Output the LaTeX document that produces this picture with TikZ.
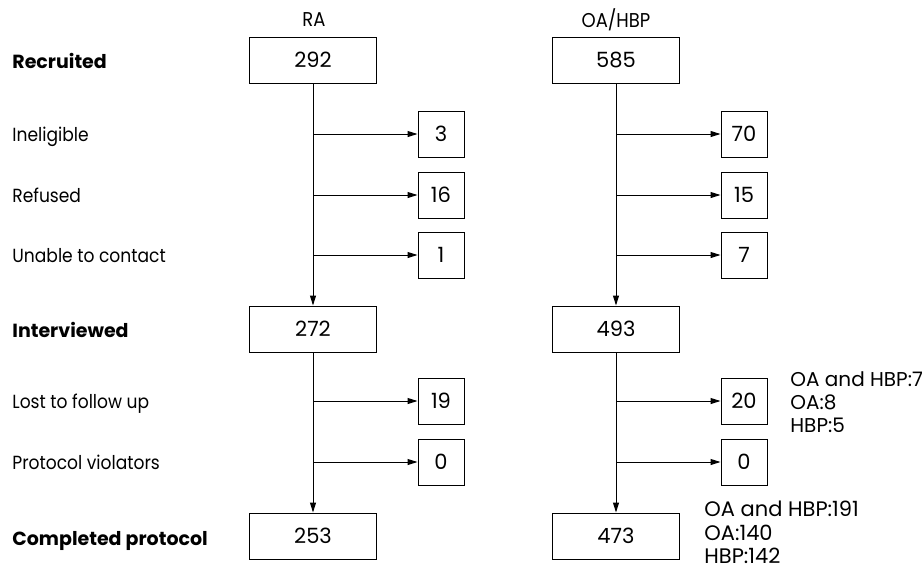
\documentclass[tikz,border=0pt]{standalone}
\usepackage{fontspec}
\setmainfont{Poppins}[FakeStretch=0.9, BoldFeatures={FakeStretch=1.0}]
\newfontfamily\numfont{Poppins}
\usetikzlibrary{arrows.meta, positioning}

\begin{document}
\begin{tikzpicture}[
  x=0.5pt, y=-0.5pt,
  bigbox/.style={draw, line width=0.5pt, minimum width=63.5pt, minimum height=23pt, inner sep=0pt, font=\numfont\fontsize{10.5}{12}\selectfont},
  smallbox/.style={draw, line width=0.5pt, minimum width=23pt, minimum height=23pt, inner sep=0pt, font=\numfont\fontsize{10.5}{12}\selectfont},
  rowlabel/.style={anchor=base west, inner sep=0pt, font=\fontsize{9.5}{12}\selectfont},
  header/.style={font=\fontsize{10}{12}\selectfont},
  note/.style={anchor=north west, align=left, inner sep=0pt, font=\numfont\fontsize{10.5}{11.75}\selectfont},
  arrow/.style={-{Triangle[length=5pt, width=3pt]}, line width=0.5pt}
]
\useasboundingbox (0,0) rectangle (922,570);

% row labels
\node[rowlabel] (l_rec) at (12,68) {\textbf{Recruited}};
\node[rowlabel] (l_inel) at (12,141) {Ineligible};
\node[rowlabel] (l_ref) at (12,202) {Refused};
\node[rowlabel] (l_unab) at (12,262) {Unable to contact};
\node[rowlabel] (l_int) at (12,337) {\textbf{Interviewed}};
\node[rowlabel] (l_lost) at (12,408) {Lost to follow up};
\node[rowlabel] (l_viol) at (12,469) {Protocol violators};
\node[rowlabel] (l_comp) at (12,545) {\textbf{Completed protocol}};

% RA column
\node[header] (ra) at (314,20) {RA};
\node[bigbox] (rec_ra) at (313,60) {292};
\node[smallbox] (inel_ra) at (441,134) {3};
\node[smallbox] (ref_ra) at (441,195) {16};
\node[smallbox] (unab_ra) at (441,255) {1};
\node[bigbox] (int_ra) at (313,329) {272};
\node[smallbox] (lost_ra) at (441,401) {19};
\node[smallbox] (viol_ra) at (441,462) {0};
\node[bigbox] (comp_ra) at (313,536) {253};

% OA/HBP column
\node[header] (oa) at (616,20) {OA/HBP};
\node[bigbox] (rec_oa) at (616,60) {585};
\node[smallbox] (inel_oa) at (744,134) {70};
\node[smallbox] (ref_oa) at (744,195) {15};
\node[smallbox] (unab_oa) at (744,255) {7};
\node[bigbox] (int_oa) at (616,329) {493};
\node[smallbox] (lost_oa) at (744,401) {20};
\node[smallbox] (viol_oa) at (744,462) {0};
\node[bigbox] (comp_oa) at (616,536) {473};

% notes
\node[note, font=\numfont\fontsize{10}{11.5}\selectfont] (n_lost) at (790,371) {OA and HBP:7\\OA:8\\HBP:5};
\node[note] (n_comp) at (704,501) {OA and HBP:191\\OA:140\\HBP:142};

% main flow
\foreach \c in {ra, oa} {
  \draw[arrow] (rec_\c) -- (int_\c);
  \draw[arrow] (int_\c) -- (comp_\c);
  \foreach \s in {inel, ref, unab}
    \draw[arrow] (rec_\c.south |- \s_\c) -- (\s_\c);
  \foreach \s in {lost, viol}
    \draw[arrow] (int_\c.south |- \s_\c) -- (\s_\c);
}
\end{tikzpicture}
\end{document}
